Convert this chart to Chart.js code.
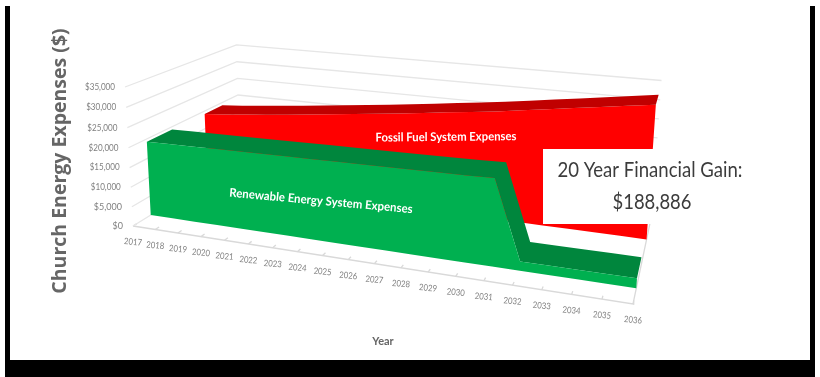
<!DOCTYPE html>
<html>
<head>
<meta charset="utf-8">
<title>Church Energy Expenses</title>
<script src="https://cdn.jsdelivr.net/npm/chart.js@4"></script>
<style>
  html, body { margin: 0; padding: 0; background: #fff; overflow: hidden; }
  #frame { position: absolute; left: 5px; top: 6px; width: 800px; height: 354px;
           border-left: 5px solid #000; border-right: 5px solid #000; border-bottom: 17px solid #000; }
  #chart { position: absolute; left: 0; top: 0; }
</style>
</head>
<body>
<div id="frame"></div>
<canvas id="chart" width="820" height="377"></canvas>
<script>
const years = ['2017', '2018', '2019', '2020', '2021', '2022', '2023', '2024', '2025', '2026',
  '2027', '2028', '2029', '2030', '2031', '2032', '2033', '2034', '2035', '2036'];
const fossilFuel = [19200, 19700, 20300, 20900, 21500, 22200, 22900, 23600, 24300, 25000,
  25800, 26600, 27300, 28100, 29000, 29900, 30800, 31700, 32600, 33500];
const renewable = [19300, 19400, 19500, 19600, 19700, 19800, 19900, 20000, 20100, 20200,
  20300, 20400, 20500, 20600, 20800, 2200, 2220, 2240, 2260, 2300];
const valueTicks = [0, 5000, 10000, 15000, 20000, 25000, 30000, 35000];
const maxValue = 35000;

// corners of the 3D box on the page and how strongly each axis recedes
const origin = { x: 133, y: 226 };
const endX = { x: 633, y: 304 };
const endUp = { x: 125, y: 87 };
const endBack = { x: 240, y: 160 };
const persX = -0.16;
const persUp = -0.033;
const persBack = 0.22;

// position of (year index, value, depth 0-1) in the flat x/y scales
function project(i, value, depth) {
  const t = i / (years.length - 1);
  const h = value / maxValue;
  const w = 1 + persX * t + persUp * h + persBack * depth;
  const part = (k) => origin[k]
    + t * ((1 + persX) * endX[k] - origin[k])
    + h * ((1 + persUp) * endUp[k] - origin[k])
    + depth * ((1 + persBack) * endBack[k] - origin[k]);
  return { x: part('x') / w, y: part('y') / w };
}

function wallLine(points, color) {
  return { data: points, borderColor: color, borderWidth: 1.3, order: 10 };
}

const last = years.length - 1;
const gridColor = '#e6e6e6';
const gridSets = [];
valueTicks.forEach((v) => {
  gridSets.push(wallLine([project(0, v, 0), project(0, v, 1), project(last, v, 1)], gridColor));
});
// floor edges and the year ticks
gridSets.push(wallLine([project(0, 0, 0), project(last, 0, 0), project(last, 0, 1)], '#d9d9d9'));
years.forEach((y, i) => {
  gridSets.push(wallLine([project(i, 0, 0), project(i, 0, 0.03)], '#d9d9d9'));
});

// one closed face per dataset, filled by the faces plugin below
function frontFace(values, depth, color, order) {
  const top = values.map((v, i) => project(i, v, depth));
  const bottom = values.map((v, i) => project(i, 0, depth)).reverse();
  return { data: top.concat(bottom), faceColor: color, borderColor: color, borderWidth: 0, order: order };
}

function topFace(values, depthFront, depthBack, color, order) {
  const front = values.map((v, i) => project(i, v, depthFront));
  const back = values.map((v, i) => project(i, v, depthBack)).reverse();
  return { data: front.concat(back), faceColor: color, borderColor: color, borderWidth: 0, order: order };
}

const facesPlugin = {
  id: 'faces',
  beforeDatasetDraw(chart, args) {
    const ds = chart.data.datasets[args.index];
    if (!ds.faceColor) return;
    const pts = args.meta.data;
    const ctx = chart.ctx;
    ctx.save();
    ctx.fillStyle = ds.faceColor;
    ctx.beginPath();
    pts.forEach((p, i) => (i ? ctx.lineTo(p.x, p.y) : ctx.moveTo(p.x, p.y)));
    ctx.closePath();
    ctx.fill();
    ctx.restore();
  },
};

function label(ctx, text, x, y, font, color, angle, align, maxWidth) {
  ctx.save();
  ctx.translate(x, y);
  ctx.rotate(angle || 0);
  ctx.font = font;
  ctx.fillStyle = color;
  ctx.textAlign = align || 'center';
  ctx.textBaseline = 'middle';
  ctx.fillText(text, 0, 0, maxWidth);
  ctx.restore();
}

const labelsPlugin = {
  id: 'labels',
  afterDatasetsDraw(chart) {
    const ctx = chart.ctx;
    const sx = chart.scales.x;
    const sy = chart.scales.y;
    const px = (p) => ({ x: sx.getPixelForValue(p.x), y: sy.getPixelForValue(p.y) });

    // value ticks beside the near wall
    valueTicks.forEach((v) => {
      const p = px(project(0, v, 0));
      const text = '$' + v.toLocaleString('en-US');
      label(ctx, text, p.x - 10, p.y, '9px Lato', '#808080', 0, 'right', 30);
    });
    // year ticks under the floor edge
    years.forEach((y, i) => {
      const p = px(project(i, 0, 0));
      label(ctx, y, p.x, p.y + 16, '9px Lato', '#808080', 0.09, 'center', 18);
    });

    label(ctx, 'Church Energy Expenses ($)', 60, 161, 'bold 19.5px "Open Sans"', '#666666', -Math.PI / 2, 'center', 272);
    label(ctx, 'Year', 383, 341, 'bold 11px Lato', '#666666');

    label(ctx, 'Fossil Fuel System Expenses', 446, 137, 'bold 12px Lato', '#ffffff', -0.01, 'center', 141);
    label(ctx, 'Renewable Energy System Expenses', 321, 201, 'bold 12px Lato', '#ffffff', 0.09, 'center', 184);

    // white callout over the chart
    ctx.fillStyle = '#ffffff';
    ctx.fillRect(543, 149, 207, 75);
    label(ctx, '20 Year Financial Gain:', 650, 170, '21px Lato', '#3c3c3c', 0, 'center', 185);
    label(ctx, '$188,886', 652, 202, '21px Lato', '#3c3c3c', 0, 'center', 79);
  },
};

new Chart(document.getElementById('chart'), {
  type: 'scatter',
  data: {
    datasets: gridSets.concat([
      frontFace(fossilFuel, 0.65, '#ff0000', 6),
      topFace(fossilFuel, 0.65, 0.83, '#c00000', 5),
      frontFace(renewable, 0.14, '#00b050', 2),
      topFace(renewable, 0.14, 0.35, '#00863d', 3),
    ]),
  },
  options: {
    responsive: false,
    animation: false,
    showLine: true,
    layout: { padding: 0 },
    elements: { point: { radius: 0 }, line: { tension: 0 } },
    plugins: { legend: { display: false }, tooltip: { enabled: false } },
    scales: {
      x: { type: 'linear', display: false, min: 0, max: 820 },
      y: { type: 'linear', display: false, min: 0, max: 377, reverse: true },
    },
  },
  plugins: [facesPlugin, labelsPlugin],
});
</script>
</body>
</html>
